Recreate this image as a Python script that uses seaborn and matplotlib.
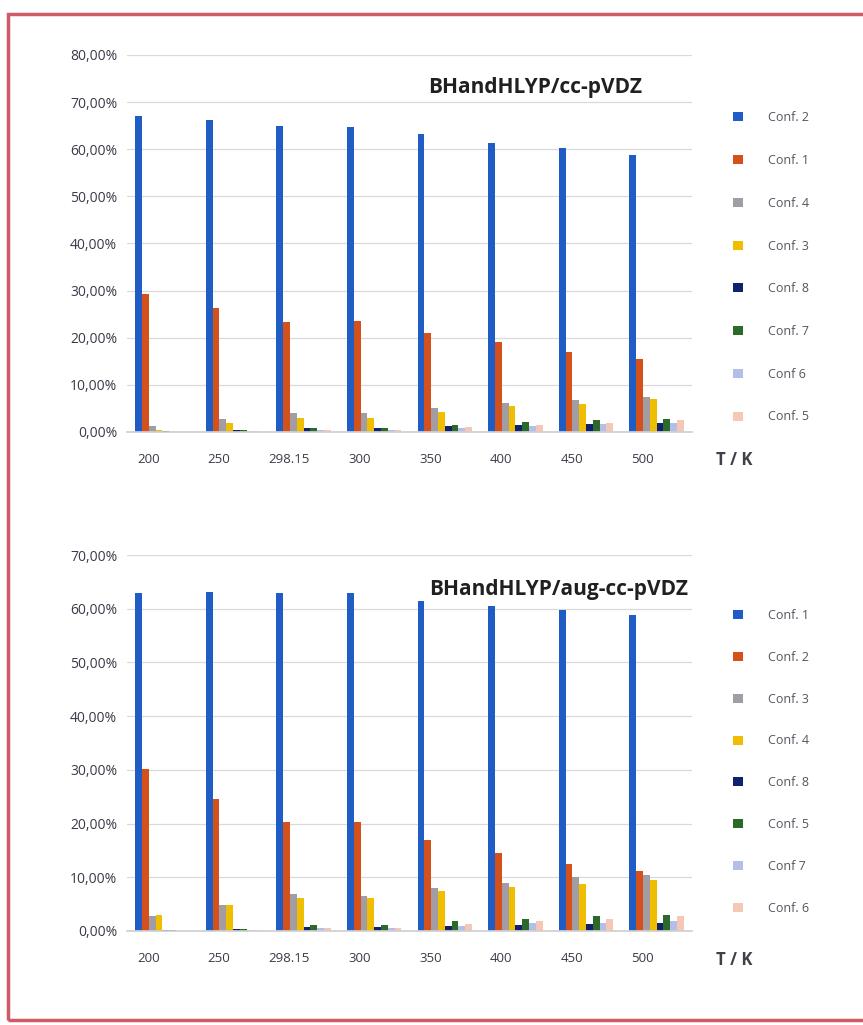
import numpy as np
import pandas as pd
import matplotlib
matplotlib.use("Agg")
import matplotlib.pyplot as plt
from matplotlib.patches import Patch, Rectangle
from matplotlib.ticker import FuncFormatter
import seaborn as sns

# Temperatures (K) used as categories
temps = ["200", "250", "298.15", "300", "350", "400", "450", "500"]

# Boltzmann populations (%), BHandHLYP/cc-pVDZ
vdz_labels = ["Conf. 2", "Conf. 1", "Conf. 4", "Conf. 3", "Conf. 8", "Conf. 7", "Conf 6", "Conf. 5"]
vdz_conf2 = [67.0, 66.2, 65.0, 64.7, 63.2, 61.3, 60.2, 58.8]
vdz_conf1 = [29.3, 26.3, 23.3, 23.5, 21.0, 19.0, 17.0, 15.5]
vdz_conf4 = [1.3, 2.7, 4.0, 4.0, 5.0, 6.2, 6.7, 7.5]
vdz_conf3 = [0.5, 2.0, 3.0, 3.0, 4.3, 5.5, 6.0, 7.0]
vdz_conf8 = [0.2, 0.5, 0.8, 0.8, 1.2, 1.5, 1.8, 2.0]
vdz_conf7 = [0.1, 0.4, 0.8, 0.8, 1.5, 2.2, 2.5, 2.8]
vdz_conf6 = [0.1, 0.2, 0.4, 0.5, 0.8, 1.2, 1.6, 2.0]
vdz_conf5 = [0.1, 0.2, 0.5, 0.5, 1.0, 1.5, 2.0, 2.5]

# Boltzmann populations (%), BHandHLYP/aug-cc-pVDZ
aug_labels = ["Conf. 1", "Conf. 2", "Conf. 3", "Conf. 4", "Conf. 8", "Conf. 5", "Conf 7", "Conf. 6"]
aug_conf1 = [63.0, 63.2, 63.0, 63.0, 61.5, 60.5, 59.8, 58.8]
aug_conf2 = [30.2, 24.5, 20.2, 20.2, 17.0, 14.5, 12.5, 11.2]
aug_conf3 = [2.8, 4.8, 6.8, 6.5, 8.0, 9.0, 10.0, 10.5]
aug_conf4 = [3.0, 4.8, 6.2, 6.2, 7.5, 8.2, 8.8, 9.5]
aug_conf8 = [0.1, 0.3, 0.8, 0.8, 1.0, 1.2, 1.3, 1.5]
aug_conf5 = [0.1, 0.3, 1.2, 1.2, 1.8, 2.3, 2.7, 3.0]
aug_conf7 = [0.05, 0.2, 0.5, 0.5, 1.0, 1.4, 1.5, 1.8]
aug_conf6 = [0.05, 0.2, 0.5, 0.5, 1.3, 1.8, 2.2, 2.8]

vdz_series = [vdz_conf2, vdz_conf1, vdz_conf4, vdz_conf3, vdz_conf8, vdz_conf7, vdz_conf6, vdz_conf5]
aug_series = [aug_conf1, aug_conf2, aug_conf3, aug_conf4, aug_conf8, aug_conf5, aug_conf7, aug_conf6]

colors = ["#1f5cc4", "#d4511c", "#a29ca4", "#f0be00",
          "#10226e", "#2c6a2c", "#b3bfe8", "#f5c7b4"]


def long_frame(labels, series):
    rows = []
    for lab, vals in zip(labels, series):
        for t, v in zip(temps, vals):
            rows.append({"T": t, "conf": lab, "pop": v})
    return pd.DataFrame(rows)


sns.set_theme(style="white")
plt.rcParams["font.family"] = ["Open Sans", "DejaVu Sans"]

fig = plt.figure(figsize=(8.63, 10.25), dpi=100)
W, H = 863, 1025


def add_axes(left, top, right, bottom):
    return fig.add_axes([left / W, 1 - bottom / H, (right - left) / W, (bottom - top) / H])


panels = [
    dict(box=(127, 55, 692, 432), labels=vdz_labels, series=vdz_series, ymax=80,
         title="BHandHLYP/cc-pVDZ", tpos=(535, 88), legend_top=100, spacing=2.38, tk_y=460),
    dict(box=(127, 555, 692, 931), labels=aug_labels, series=aug_series, ymax=70,
         title="BHandHLYP/aug-cc-pVDZ", tpos=(559, 590), legend_top=598, spacing=2.3, tk_y=960),
]

pct = FuncFormatter(lambda v, _: f"{v:.2f}".replace(".", ",") + "%")

for p in panels:
    ax = add_axes(*p["box"])
    df = long_frame(p["labels"], p["series"])
    sns.barplot(data=df, x="T", y="pop", hue="conf", hue_order=p["labels"],
                order=temps, palette=colors, width=0.77, gap=0,
                saturation=1, linewidth=0, legend=False, ax=ax)
    ax.set_xlim(-0.5, len(temps) - 0.5)
    ax.set_ylim(0, p["ymax"])
    ax.set_yticks(np.arange(0, p["ymax"] + 1, 10))
    ax.yaxis.set_major_formatter(pct)
    ax.set_xticks(np.arange(len(temps)) - 0.2, temps)
    ax.tick_params(axis="y", length=0, labelsize=10, colors="#3a3a48", pad=7)
    ax.tick_params(axis="x", length=0, labelsize=9.5, colors="#3a3a48", pad=15)
    ax.set_xlabel("")
    ax.set_ylabel("")
    ax.grid(axis="y", color="#d9d9d9", linewidth=0.9)
    ax.set_axisbelow(True)
    for s in ["top", "right", "left"]:
        ax.spines[s].set_visible(False)
    ax.spines["bottom"].set_color("#d0d0d0")
    fig.text(p["tpos"][0] / W, 1 - p["tpos"][1] / H, p["title"],
             ha="center", va="center", fontsize=15, fontweight="bold", color="#202020")

    handles = [Patch(facecolor=c, edgecolor="none") for c in colors]
    fig.legend(handles, p["labels"], loc="upper left",
               bbox_to_anchor=(722 / W, 1 - p["legend_top"] / H),
               frameon=False, fontsize=9, labelcolor="#555560",
               handlelength=0.75, handleheight=0.75, handletextpad=2.0,
               labelspacing=p["spacing"])
    fig.text(734 / W, 1 - p["tk_y"] / H, "T / K", ha="center", va="center",
             fontsize=12, fontweight="bold", color="#404048")

# Red frame around both panels
fig.patches.append(Rectangle((8 / W, 1 - 1020 / H), (870 - 8) / W, (1020 - 14) / H,
                             transform=fig.transFigure, fill=False,
                             edgecolor="#d05a66", linewidth=2.5))

fig.savefig("out.png", dpi=100)
